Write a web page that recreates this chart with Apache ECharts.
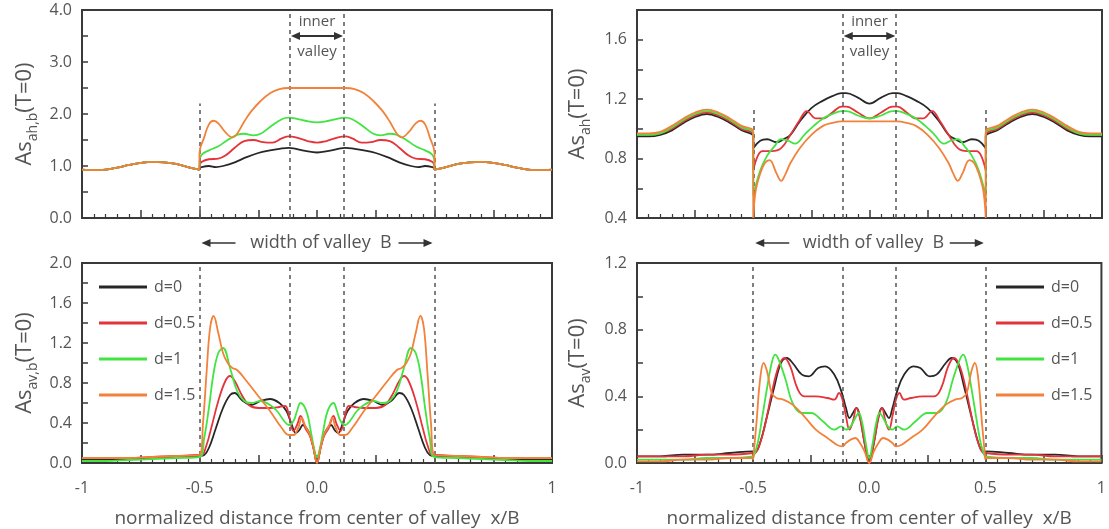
<!DOCTYPE html>
<html><head><meta charset="utf-8">
<script src="https://cdn.jsdelivr.net/npm/echarts@6/dist/echarts.min.js"></script>
<style>html,body{margin:0;padding:0;background:#fff}#c{width:1109px;height:529px}</style>
</head><body><div id="c"></div>
<script>
// ---------- data (half profiles: distance from centre |x/B|, value) ----------
const seriesNames = ['d=0', 'd=0.5', 'd=1', 'd=1.5'];
const colors = ['#272727', '#e4343a', '#42e442', '#f2813a'];
const valleyEdges = [-0.5, 0.5];
const innerEdges = [-0.115, 0.115];
const xTickLabels = { '-1': '-1', '-0.5': '-0.5', '0': '0.0', '0.5': '0.5', '1': '1' };

// top-left  As_ah,b
const tlOuterD = [0.5, 0.55, 0.6, 0.65, 0.7, 0.75, 0.8, 0.85, 0.9, 0.95, 1.0];
const tlOuter = [0.93, 0.98, 1.04, 1.07, 1.08, 1.06, 1.02, 0.97, 0.93, 0.92, 0.93];
const tlBlack = [[0,1.26],[0.05,1.29],[0.1,1.34],[0.12,1.35],[0.16,1.33],[0.2,1.3],[0.25,1.25],[0.3,1.17],[0.35,1.07],[0.4,1.0],[0.43,0.98],[0.46,1.0],[0.5,0.95]];
const tlRed = [[0,1.45],[0.04,1.48],[0.09,1.55],[0.12,1.57],[0.15,1.53],[0.19,1.45],[0.23,1.46],[0.27,1.5],[0.31,1.48],[0.35,1.35],[0.39,1.2],[0.42,1.14],[0.46,1.13],[0.49,1.08],[0.5,1.0]];
const tlGreen = [[0,1.84],[0.05,1.87],[0.1,1.92],[0.12,1.93],[0.15,1.9],[0.2,1.75],[0.24,1.62],[0.27,1.59],[0.31,1.62],[0.34,1.6],[0.38,1.5],[0.42,1.38],[0.46,1.3],[0.49,1.22],[0.5,1.1]];
const tlOrange = [[0,2.5],[0.12,2.5],[0.16,2.48],[0.2,2.4],[0.24,2.25],[0.28,2.05],[0.31,1.85],[0.34,1.62],[0.36,1.55],[0.39,1.65],[0.42,1.82],[0.44,1.87],[0.46,1.8],[0.48,1.55],[0.5,1.25]];

// top-right  As_ah
const trOuterD = [0.5, 0.55, 0.6, 0.65, 0.7, 0.75, 0.8, 0.85, 0.9, 0.95, 1.0];
const trOuterBlack = [0.95, 0.99, 1.04, 1.08, 1.1, 1.08, 1.04, 0.99, 0.96, 0.95, 0.95];
const trOuterRed = [0.96, 1.0, 1.05, 1.09, 1.11, 1.09, 1.05, 1.0, 0.97, 0.96, 0.96];
const trOuterGreen = [0.97, 1.01, 1.06, 1.1, 1.12, 1.1, 1.06, 1.01, 0.97, 0.96, 0.96];
const trOuterOrange = [0.98, 1.02, 1.07, 1.11, 1.13, 1.11, 1.07, 1.02, 0.98, 0.97, 0.97];
const trBlack = [[0,1.17],[0.05,1.21],[0.1,1.24],[0.12,1.24],[0.16,1.22],[0.2,1.19],[0.25,1.14],[0.3,1.05],[0.34,0.96],[0.37,0.93],[0.4,0.91],[0.44,0.93],[0.47,0.92],[0.5,0.87]];
const trRed = [[0,1.07],[0.05,1.11],[0.1,1.15],[0.12,1.15],[0.16,1.11],[0.2,1.07],[0.23,1.07],[0.27,1.12],[0.3,1.06],[0.34,0.96],[0.38,0.87],[0.42,0.85],[0.46,0.85],[0.48,0.82],[0.5,0.72]];
const trGreen = [[0,1.07],[0.05,1.09],[0.1,1.12],[0.12,1.12],[0.16,1.1],[0.2,1.07],[0.24,1.02],[0.28,0.96],[0.32,0.9],[0.35,0.92],[0.38,0.93],[0.41,0.88],[0.44,0.82],[0.47,0.72],[0.5,0.55]];
const trOrange = [[0,1.05],[0.12,1.05],[0.16,1.04],[0.2,1.02],[0.25,0.96],[0.3,0.87],[0.34,0.77],[0.36,0.7],[0.38,0.65],[0.4,0.7],[0.43,0.79],[0.45,0.77],[0.47,0.7],[0.49,0.58],[0.5,0.4]];

// bottom-left  As_av,b
const blOuterD = [0.5, 0.6, 0.7, 0.8, 0.9, 1.0];
const blOuterBlack = [0.07, 0.06, 0.05, 0.04, 0.04, 0.03];
const blOuterRed = [0.08, 0.07, 0.06, 0.05, 0.05, 0.05];
const blOuterGreen = [0.06, 0.05, 0.04, 0.03, 0.02, 0.02];
const blOuterOrange = [0.08, 0.07, 0.06, 0.05, 0.05, 0.05];
const blBlack = [[0,0.0],[0.015,0.15],[0.03,0.28],[0.045,0.35],[0.06,0.38],[0.075,0.33],[0.09,0.3],[0.11,0.4],[0.13,0.52],[0.16,0.6],[0.2,0.64],[0.24,0.62],[0.28,0.58],[0.32,0.63],[0.35,0.7],[0.37,0.68],[0.4,0.55],[0.43,0.35],[0.46,0.15],[0.48,0.08],[0.5,0.07]];
const blRed = [[0,0.0],[0.015,0.15],[0.03,0.27],[0.05,0.35],[0.07,0.47],[0.085,0.38],[0.1,0.32],[0.12,0.48],[0.135,0.57],[0.16,0.56],[0.2,0.55],[0.25,0.55],[0.29,0.58],[0.32,0.68],[0.35,0.82],[0.37,0.87],[0.39,0.82],[0.42,0.62],[0.45,0.35],[0.47,0.18],[0.49,0.08],[0.5,0.08]];
const blGreen = [[0,0.06],[0.01,0.12],[0.025,0.3],[0.04,0.48],[0.055,0.57],[0.07,0.6],[0.085,0.52],[0.1,0.42],[0.12,0.38],[0.14,0.42],[0.17,0.52],[0.2,0.58],[0.24,0.62],[0.28,0.6],[0.31,0.62],[0.34,0.72],[0.37,0.95],[0.4,1.15],[0.42,1.1],[0.44,0.9],[0.46,0.55],[0.48,0.25],[0.5,0.06]];
const blOrange = [[0,0.0],[0.015,0.15],[0.03,0.28],[0.05,0.37],[0.065,0.45],[0.08,0.35],[0.1,0.28],[0.12,0.28],[0.15,0.35],[0.2,0.52],[0.25,0.67],[0.3,0.82],[0.34,0.93],[0.36,0.95],[0.38,1.0],[0.4,1.1],[0.42,1.3],[0.44,1.47],[0.455,1.35],[0.47,0.9],[0.485,0.4],[0.5,0.08]];

// bottom-right  As_av
const brOuterD = [0.5, 0.6, 0.7, 0.8, 0.9, 1.0];
const brOuterBlack = [0.07, 0.06, 0.05, 0.05, 0.04, 0.04];
const brOuterRed = [0.06, 0.05, 0.05, 0.04, 0.04, 0.04];
const brOuterGreen = [0.04, 0.03, 0.03, 0.02, 0.02, 0.02];
const brOuterOrange = [0.03, 0.03, 0.02, 0.02, 0.01, 0.01];
const brBlack = [[0,0.0],[0.02,0.12],[0.04,0.28],[0.055,0.33],[0.07,0.3],[0.085,0.27],[0.1,0.33],[0.12,0.43],[0.15,0.53],[0.19,0.58],[0.22,0.57],[0.26,0.52],[0.29,0.53],[0.33,0.6],[0.355,0.63],[0.38,0.6],[0.41,0.45],[0.44,0.28],[0.47,0.12],[0.49,0.07],[0.5,0.07]];
const brRed = [[0,0.0],[0.02,0.12],[0.04,0.27],[0.055,0.33],[0.07,0.25],[0.085,0.2],[0.1,0.28],[0.115,0.38],[0.13,0.42],[0.15,0.38],[0.18,0.39],[0.23,0.4],[0.28,0.4],[0.31,0.45],[0.34,0.58],[0.365,0.63],[0.39,0.58],[0.42,0.42],[0.45,0.22],[0.48,0.08],[0.5,0.05]];
const brGreen = [[0,0.03],[0.015,0.12],[0.03,0.24],[0.045,0.3],[0.06,0.27],[0.08,0.22],[0.1,0.2],[0.12,0.22],[0.15,0.2],[0.2,0.25],[0.25,0.3],[0.29,0.3],[0.33,0.36],[0.36,0.5],[0.39,0.62],[0.405,0.65],[0.42,0.6],[0.44,0.45],[0.46,0.28],[0.48,0.12],[0.5,0.03]];
const brOrange = [[0,0.0],[0.02,0.07],[0.04,0.12],[0.06,0.15],[0.08,0.14],[0.1,0.12],[0.115,0.1],[0.14,0.11],[0.18,0.15],[0.23,0.2],[0.28,0.28],[0.33,0.35],[0.37,0.38],[0.4,0.39],[0.42,0.42],[0.44,0.55],[0.455,0.6],[0.47,0.5],[0.485,0.25],[0.5,0.02]];

// ---------- build symmetric profiles ----------
function profile(inner, outerD, outerV) {
  const half = inner.concat(outerD.map((d, i) => [d, outerV[i]]));
  const left = half.slice().reverse().filter(p => p[0] > 0).map(p => [-p[0], p[1]]);
  return left.concat(half);
}
const panels = [
  [profile(tlBlack, tlOuterD, tlOuter), profile(tlRed, tlOuterD, tlOuter), profile(tlGreen, tlOuterD, tlOuter), profile(tlOrange, tlOuterD, tlOuter)],
  [profile(trBlack, trOuterD, trOuterBlack), profile(trRed, trOuterD, trOuterRed), profile(trGreen, trOuterD, trOuterGreen), profile(trOrange, trOuterD, trOuterOrange)],
  [profile(blBlack, blOuterD, blOuterBlack), profile(blRed, blOuterD, blOuterRed), profile(blGreen, blOuterD, blOuterGreen), profile(blOrange, blOuterD, blOuterOrange)],
  [profile(brBlack, brOuterD, brOuterBlack), profile(brRed, brOuterD, brOuterRed), profile(brGreen, brOuterD, brOuterGreen), profile(brOrange, brOuterD, brOuterOrange)]
];
const yTitles = ['ah,b', 'ah', 'av,b', 'av'];
const yRanges = [[0, 4, 0.5], [0.4, 1.8, 0.2], [0, 2, 0.2], [0, 1.2, 0.2]];
const edgeTop = [2.2, 1.13, 2, 1.2];

// ---------- layout ----------
const FONT = 'Open Sans';
const TXT = '#555';
const AX = '#3a3a3a';
const grids = [
  { left: 82, top: 10, width: 470, height: 208 },
  { left: 637, top: 10, width: 465, height: 208 },
  { left: 82, top: 263, width: 470, height: 204 },
  { left: 637, top: 263, width: 465, height: 204 }
];

function yLabel(i) {
  return function (v) {
    if (i === 0) return (Math.abs(v % 1) < 1e-6) ? v.toFixed(1) : '';
    return (Math.round(v * 10) % 4 === 0) ? v.toFixed(1) : '';
  };
}

const xAxes = grids.map((g, i) => ({
  type: 'value', gridIndex: i, min: -1, max: 1, interval: 0.25,
  axisLine: { show: true, onZero: false, lineStyle: { color: AX, width: 2 } },
  axisTick: { show: true, inside: true, length: 8, lineStyle: { color: AX, width: 1.5 } },
  minorTick: { show: true, splitNumber: 5, length: 4, lineStyle: { color: AX, width: 1.2 } },
  splitLine: { show: false },
  axisLabel: {
    show: i >= 2, margin: 17, color: TXT, fontSize: 16, fontFamily: FONT,
    formatter: v => { const k = String(Math.round(v * 100) / 100); return xTickLabels[k] || ''; }
  },
  name: i >= 2 ? 'normalized distance from center of valley  x/B' : '',
  nameLocation: 'middle', nameGap: 46,
  nameTextStyle: { color: TXT, fontSize: 19, fontFamily: FONT }
}));

const yAxes = grids.map((g, i) => ({
  type: 'value', gridIndex: i, min: yRanges[i][0], max: yRanges[i][1], interval: yRanges[i][2],
  axisLine: { show: true, onZero: false, lineStyle: { color: AX, width: 2 } },
  axisTick: { show: true, inside: true, length: 6, lineStyle: { color: AX, width: 1.5 } },
  splitLine: { show: false },
  axisLabel: { color: TXT, fontSize: 16, fontFamily: FONT, margin: 10, formatter: yLabel(i) },
  name: '{a|As}{s|' + yTitles[i] + '}{a|(T=0)}',
  nameLocation: 'middle', nameRotate: 90, nameGap: i % 2 === 1 ? 44 : 42,
  nameTextStyle: {
    color: TXT, fontFamily: FONT,
    rich: {
      a: { fontSize: 22, lineHeight: 30, color: TXT, fontFamily: FONT },
      s: { fontSize: 14, lineHeight: 14, verticalAlign: 'bottom', color: TXT, fontFamily: FONT }
    }
  }
}));

const series = [];
panels.forEach((p, gi) => {
  p.forEach((data, si) => {
    const s = {
      type: 'line', name: seriesNames[si], xAxisIndex: gi, yAxisIndex: gi,
      data: data, showSymbol: false, symbol: 'none', smooth: 0.4,
      lineStyle: { color: colors[si], width: 1.8 }, itemStyle: { color: colors[si] },
      z: 2 + si, animation: false
    };
    if (si === 0) {
      const lo = yRanges[gi][0], hi = yRanges[gi][1];
      const ml = [];
      valleyEdges.forEach(x => ml.push([{ coord: [x, lo] }, { coord: [x, edgeTop[gi]] }]));
      innerEdges.forEach(x => ml.push([{ coord: [x, lo] }, { coord: [x, hi] }]));
      s.markLine = {
        silent: true, symbol: 'none', animation: false,
        label: { show: false },
        lineStyle: { type: [4, 4], color: '#555', width: 1.5 },
        data: ml
      };
    }
    series.push(s);
  });
});

const legendBase = {
  orient: 'vertical', icon: 'rect', itemWidth: 48, itemHeight: 3, itemGap: 20,
  data: seriesNames, selectedMode: false,
  textStyle: { color: TXT, fontSize: 16, fontFamily: FONT, padding: [0, 0, 0, 2] }
};

const chart = echarts.init(document.getElementById('c'), null, { renderer: 'canvas' });
chart.setOption({
  backgroundColor: '#fff',
  animation: false,
  grid: grids.map(g => Object.assign({ show: true, borderColor: AX, borderWidth: 2, containLabel: false }, g)),
  xAxis: xAxes,
  yAxis: yAxes,
  legend: [
    Object.assign({ left: 94, top: 274 }, legendBase),
    Object.assign({ left: 991, top: 274 }, legendBase)
  ],
  series: series
});

// ---------- annotations ----------
function px(gi, x, y) { return chart.convertToPixel({ gridIndex: gi }, [x, y]); }
const g = [];
const ARC = '#333';
function head(x, y, dir) {
  return { type: 'polygon', silent: true, shape: { points: [[x, y], [x - dir * 9, y - 4], [x - dir * 9, y + 4]] }, style: { fill: ARC } };
}
function text(t, x, y, size) {
  return { type: 'text', silent: true, x: x, y: y, style: { text: t, fill: TXT, font: size + 'px "' + FONT + '"', align: 'center', verticalAlign: 'middle', textAlign: 'center', textVerticalAlign: 'middle' } };
}
[0, 1].forEach(gi => {
  const top = grids[gi].top, bottom = grids[gi].top + grids[gi].height;
  const xl = px(gi, innerEdges[0], yRanges[gi][0])[0];
  const xr = px(gi, innerEdges[1], yRanges[gi][0])[0];
  const ya = top + 26;
  g.push({ type: 'line', silent: true, shape: { x1: xl + 3, y1: ya, x2: xr - 3, y2: ya }, style: { stroke: ARC, lineWidth: 2 } });
  g.push(head(xl + 1, ya, -1));
  g.push(head(xr - 1, ya, 1));
  g.push(text('inner', (xl + xr) / 2, top + 12, 15));
  g.push(text('valley', (xl + xr) / 2, top + 42, 15));
  // width of valley B
  const el = px(gi, valleyEdges[0], yRanges[gi][0])[0];
  const er = px(gi, valleyEdges[1], yRanges[gi][0])[0];
  const yb = bottom + 25;
  g.push({ type: 'line', silent: true, shape: { x1: el + 4, y1: yb, x2: el + 36, y2: yb }, style: { stroke: ARC, lineWidth: 1.3 } });
  g.push(head(el + 2, yb, -1));
  g.push({ type: 'line', silent: true, shape: { x1: er - 36, y1: yb, x2: er - 4, y2: yb }, style: { stroke: ARC, lineWidth: 1.3 } });
  g.push(head(er - 2, yb, 1));
  g.push(text('width of valley  B', (el + er) / 2 + 4, yb, 18));
});
chart.setOption({ graphic: g });
</script>
</body></html>
